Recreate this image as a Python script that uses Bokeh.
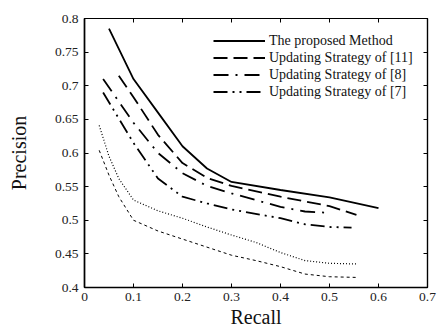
from bokeh.plotting import figure
from bokeh.models import (LinearAxis, FixedTicker, CustomJSTickFormatter, Legend,
                          LegendItem, Range1d)
from bokeh.embed import file_html
from bokeh.resources import INLINE

# ---- data ----
x_ticks = [0, 0.1, 0.2, 0.3, 0.4, 0.5, 0.6, 0.7]
y_ticks = [0.4, 0.45, 0.5, 0.55, 0.6, 0.65, 0.7, 0.75, 0.8]

rec_prop = [0.05, 0.1, 0.15, 0.2, 0.25, 0.3, 0.4, 0.5, 0.6]
prec_prop = [0.785, 0.71, 0.66, 0.61, 0.577, 0.557, 0.545, 0.534, 0.518]

rec_11 = [0.07, 0.1, 0.15, 0.2, 0.25, 0.3, 0.4, 0.5, 0.555]
prec_11 = [0.715, 0.683, 0.627, 0.585, 0.563, 0.551, 0.535, 0.521, 0.508]

rec_8 = [0.038, 0.1, 0.15, 0.2, 0.25, 0.3, 0.4, 0.45, 0.5]
prec_8 = [0.71, 0.645, 0.6, 0.57, 0.551, 0.54, 0.52, 0.513, 0.511]

rec_7 = [0.038, 0.1, 0.15, 0.2, 0.25, 0.3, 0.4, 0.45, 0.5, 0.545]
prec_7 = [0.69, 0.615, 0.562, 0.535, 0.525, 0.516, 0.503, 0.494, 0.49, 0.489]

rec_dot = [0.03, 0.05, 0.07, 0.1, 0.15, 0.2, 0.25, 0.3, 0.35, 0.4, 0.45, 0.5, 0.555]
prec_dot = [0.641, 0.595, 0.562, 0.53, 0.514, 0.503, 0.49, 0.478, 0.467, 0.452, 0.44, 0.436, 0.435]

rec_fine = [0.03, 0.05, 0.07, 0.1, 0.15, 0.2, 0.25, 0.3, 0.35, 0.4, 0.45, 0.5, 0.555]
prec_fine = [0.604, 0.567, 0.535, 0.5, 0.484, 0.472, 0.46, 0.448, 0.44, 0.431, 0.42, 0.416, 0.415]

labels = ["The proposed Method", "Updating Strategy of [11]",
          "Updating Strategy of [8]", "Updating Strategy of [7]"]

FONT = "Liberation Serif"

p = figure(frame_width=343, frame_height=269,
           x_range=Range1d(0, 0.7), y_range=Range1d(0.4, 0.8),
           output_backend="svg", toolbar_location=None,
           min_border_left=84, min_border_right=10, min_border_top=18, min_border_bottom=42)
p.grid.visible = False
p.outline_line_color = "black"
p.outline_line_width = 1.2
p.background_fill_color = "white"
p.border_fill_color = "white"

fmt = CustomJSTickFormatter(code="return String(parseFloat(tick.toFixed(2)));")
blank = CustomJSTickFormatter(code="return '';")

def style_axis(ax, ticks, labels_on=True):
    ax.ticker = FixedTicker(ticks=ticks)
    ax.minor_tick_line_color = None
    ax.major_tick_in = 4
    ax.major_tick_out = 0
    ax.major_tick_line_color = "black"
    ax.major_tick_line_width = 1
    ax.axis_line_color = "black"
    ax.major_label_text_font = FONT
    ax.major_label_text_color = "#222222"
    if labels_on:
        ax.formatter = fmt
        ax.axis_line_width = 1.6
        ax.major_label_text_font_size = "13.5px"
    else:
        ax.formatter = blank
        ax.major_label_standoff = 0
        ax.axis_line_width = 1.2

style_axis(p.xaxis[0], x_ticks)
style_axis(p.yaxis[0], y_ticks)
p.xaxis[0].major_label_standoff = 5
p.yaxis[0].major_label_standoff = 6

p.xaxis.axis_label = "Recall"
p.yaxis.axis_label = "Precision"
for ax in (p.xaxis[0], p.yaxis[0]):
    ax.axis_label_text_font = FONT
    ax.axis_label_text_font_style = "normal"
    ax.axis_label_text_font_size = "20px"
    ax.axis_label_text_color = "#111111"
p.xaxis[0].axis_label_standoff = 2
p.yaxis[0].axis_label_standoff = 22

top = LinearAxis()
right = LinearAxis()
style_axis(top, x_ticks, labels_on=False)
style_axis(right, y_ticks, labels_on=False)
p.add_layout(top, "above")
p.add_layout(right, "right")

r1 = p.line(rec_prop, prec_prop, line_color="black", line_width=1.8)
r2 = p.line(rec_11, prec_11, line_color="black", line_width=1.8, line_dash="14 6")
r3 = p.line(rec_8, prec_8, line_color="black", line_width=1.8, line_dash="15 7 2 7")
r4 = p.line(rec_7, prec_7, line_color="black", line_width=1.8, line_dash="14 5 2 5 2 5")
r5 = p.line(rec_dot, prec_dot, line_color="black", line_width=1.2, line_dash="1 2")
r6 = p.line(rec_fine, prec_fine, line_color="black", line_width=1.0, line_dash="3 3")

legend = Legend(items=[LegendItem(label=labels[0], renderers=[r1]),
                       LegendItem(label=labels[1], renderers=[r2]),
                       LegendItem(label=labels[2], renderers=[r3]),
                       LegendItem(label=labels[3], renderers=[r4])],
                location=(129, 187), glyph_width=52, glyph_height=17, label_height=17,
                label_standoff=4, padding=0, margin=0, spacing=0,
                border_line_color=None, background_fill_alpha=0,
                label_text_font=FONT, label_text_font_size="14px",
                label_text_color="#111111")
p.add_layout(legend)

open("out.html", "w").write(file_html(p, INLINE))
